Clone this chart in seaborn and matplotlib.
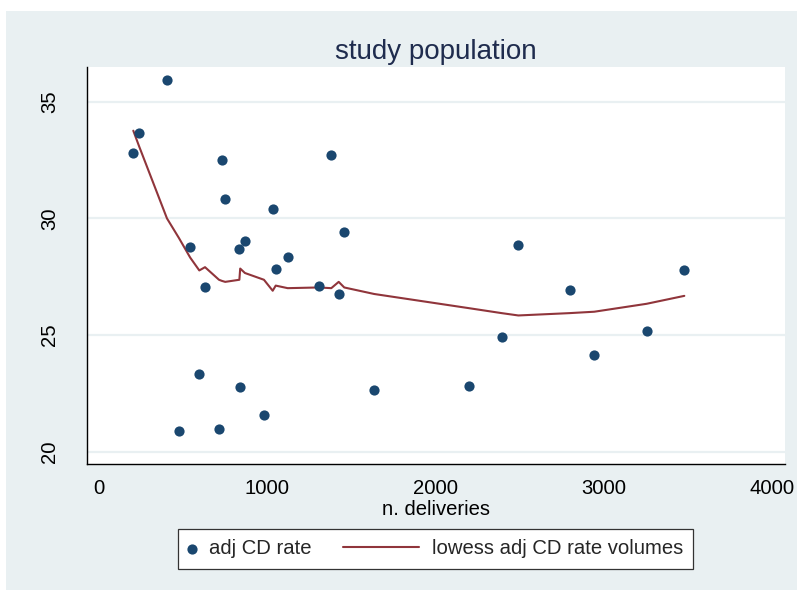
import matplotlib
matplotlib.use("Agg")
import matplotlib.pyplot as plt
from matplotlib.lines import Line2D
from matplotlib.patches import Rectangle
from matplotlib.legend_handler import HandlerLine2D
import seaborn as sns
import pandas as pd

# Hospitals: yearly deliveries and adjusted caesarean delivery (CD) rate
deliveries = [204, 238, 404, 475, 542, 596, 630, 713, 731, 750, 834, 839, 867, 980,
              1032, 1050, 1121, 1305, 1380, 1424, 1457, 1635, 2200, 2392, 2491,
              2795, 2942, 3253, 3477]
cd_rate = [32.79, 33.65, 35.93, 20.88, 28.77, 23.32, 27.08, 20.97, 32.52, 30.83,
           28.68, 22.78, 29.03, 21.56, 30.42, 27.85, 28.33, 27.10, 32.73, 26.74,
           29.40, 22.64, 22.82, 24.91, 28.84, 26.94, 24.15, 25.19, 27.77]
# lowess smooth of the CD rate, evaluated at each hospital's volume
lowess_fit = [33.76, 33.10, 30.00, 29.16, 28.32, 27.77, 27.91, 27.37, 27.32, 27.28,
              27.37, 27.85, 27.66, 27.37, 26.90, 27.12, 27.01, 27.04, 27.01, 27.28,
              27.04, 26.76, 26.15, 25.94, 25.84, 25.94, 26.00, 26.34, 26.68]

x_ticks = [0, 1000, 2000, 3000, 4000]
y_ticks = [20, 25, 30, 35]

title = "study population"
x_title = "n. deliveries"
scatter_label = "adj CD rate"
line_label = "lowess adj CD rate volumes"

df = pd.DataFrame({"deliveries": deliveries, "cd_rate": cd_rate, "fit": lowess_fit})

BG = "#e9f0f2"
NAVY = "#1a476f"
MAROON = "#90353b"

sns.set_theme(style="white")
plt.rcParams["font.family"] = ["Liberation Sans", "DejaVu Sans"]

W, H = 797, 590
fig = plt.figure(figsize=(W / 100, H / 100), dpi=100, facecolor="white")
fig.add_artist(Rectangle((6 / W, 0), 1 - 6 / W, 1 - 11 / H, transform=fig.transFigure,
                         facecolor=BG, edgecolor="none", zorder=-10))

ax = fig.add_axes([86.5 / W, 1 - 464.3 / H, (785 - 86.5) / W, (464.3 - 67) / H])
ax.set_facecolor("white")

sns.scatterplot(data=df, x="deliveries", y="cd_rate", ax=ax, color=NAVY, s=54,
                linewidth=0, label=scatter_label, zorder=3)
sns.lineplot(data=df, x="deliveries", y="fit", ax=ax, color=MAROON, linewidth=1.5,
             sort=False, estimator=None, label=line_label, zorder=2)

ax.set_xlim(-74, 4075)
ax.set_ylim(19.46, 36.49)
ax.set_xticks(x_ticks)
ax.set_yticks(y_ticks)
ax.set_xticklabels([str(v) for v in x_ticks])
ax.set_yticklabels([str(v) for v in y_ticks], rotation=90, va="center")
ax.tick_params(axis="both", which="major", length=5.8, width=0.8, color="#555555",
               labelsize=14.6, labelcolor="black", direction="out")
ax.tick_params(axis="x", pad=5)
ax.tick_params(axis="y", pad=14)

ax.grid(axis="y", color=BG, linewidth=1.6)
ax.grid(axis="x", visible=False)
ax.set_axisbelow(True)

for side in ("top", "right"):
    ax.spines[side].set_visible(False)
for side in ("left", "bottom"):
    ax.spines[side].set_color("black")
    ax.spines[side].set_linewidth(1.0)

ax.set_xlabel(x_title, fontsize=14.6, color="black", labelpad=1.2)
ax.set_ylabel("")
ax.set_title(title, fontsize=20, color="#1f2c4e", pad=6)


class LongLineHandler(HandlerLine2D):
    """Legend line that reaches further left than its handle box."""

    def __init__(self, extra, **kw):
        super().__init__(**kw)
        self.extra = extra

    def create_artists(self, legend, orig_handle, xdescent, ydescent, width, height,
                       fontsize, trans):
        y = (height - ydescent) / 2
        line = Line2D([-xdescent - self.extra, -xdescent + width], [y, y])
        self.update_prop(line, orig_handle, legend)
        line.set_transform(trans)
        return [line]


handles, labels = ax.get_legend_handles_labels()
ax.get_legend().remove()
line_handle = handles[1]
leg = fig.legend(handles, labels, loc="center",
                 bbox_to_anchor=(435.5 / W, 1 - 548.9 / H), ncol=2,
                 fontsize=14.6, frameon=True, fancybox=False, framealpha=1,
                 facecolor="white", edgecolor="#333333", borderpad=0.5,
                 handlelength=0.4, handletextpad=0.64, columnspacing=4.9,
                 handler_map={line_handle: LongLineHandler(extra=48.5)})
leg.get_frame().set_linewidth(0.9)

fig.savefig("out.png", dpi=100, facecolor=fig.get_facecolor())
